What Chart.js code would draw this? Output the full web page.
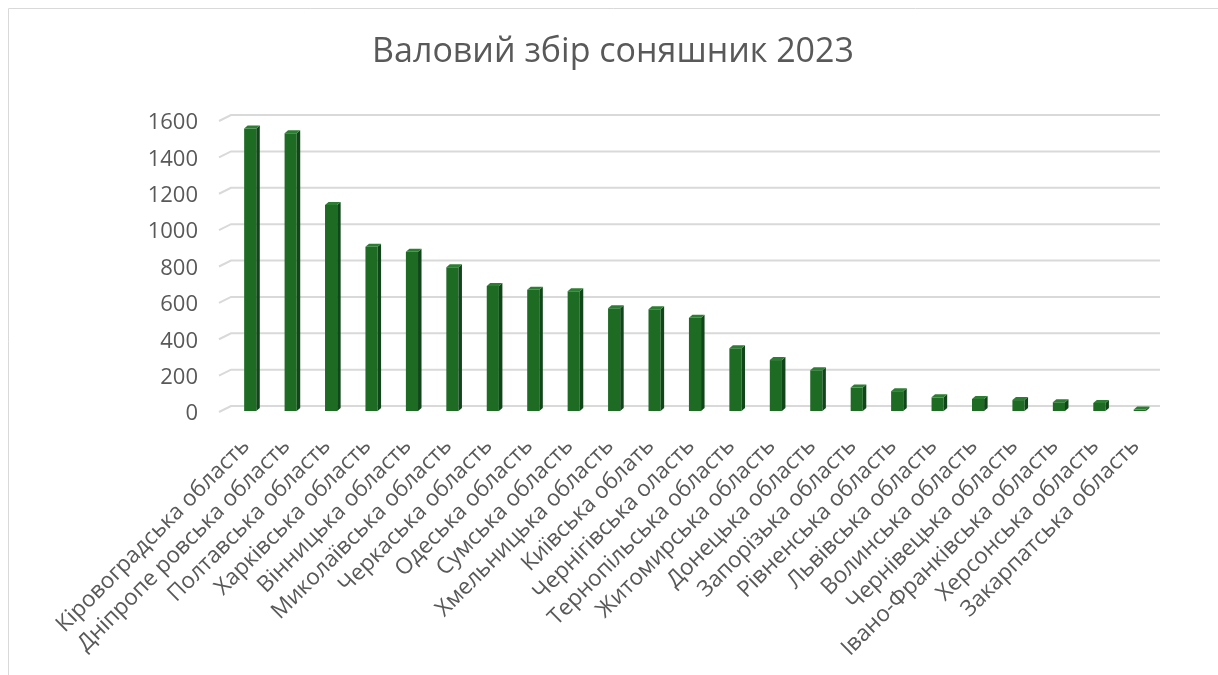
<!DOCTYPE html>
<html lang="uk">
<head>
<meta charset="UTF-8">
<title>Валовий збір соняшник 2023</title>
<script src="https://cdn.jsdelivr.net/npm/chart.js"></script>
<style>
  html, body { margin: 0; padding: 0; background: #fff; }
  #wrap { position: relative; width: 1218px; height: 675px; }
</style>
</head>
<body>
<div id="wrap"><canvas id="sunChart"></canvas></div>
<script>
const chartTitle = 'Валовий збір соняшник 2023';

const regions = [
  'Кіровоградська область', 'Дніпропе ровська область', 'Полтавська область',
  'Харківська область', 'Вінницька область', 'Миколаївська область',
  'Черкаська область', 'Одеська область', 'Сумська область',
  'Хмельницька область', 'Київська облать', 'Чернігівська оласть',
  'Тернопільська область', 'Житомирська область', 'Донецька область',
  'Запорізька область', 'Рівненська область', 'Львівська область',
  'Волинська область', 'Чернівецька область', 'Івано-Франківська область',
  'Херсонська область', 'Закарпатська область'
];

// тис. т
const harvest = [
  1553, 1527, 1132, 903, 876, 790, 687, 666, 658, 565, 560, 513,
  345, 280, 224, 129, 109, 75, 66, 60, 48, 44, 8
];

const yMin = 0;
const yMax = 1600;
const yStep = 200;

const textColor = '#595959';
const gridColor = '#d9d9d9';
const fontFamily = '"Open Sans", sans-serif';

const barFront = '#1e6b24';
const barSide = '#11461a';
const barTop = '#2c7f32';

// depth of the column boxes and of the floor/back wall
const barDepth = { dx: 3.5, dy: 3 };
const wallDepth = { dx: 11, dy: 5, side: 6 };

const frame = {
  id: 'frame',
  beforeDraw(chart) {
    const ctx = chart.ctx;
    ctx.save();
    ctx.strokeStyle = gridColor;
    ctx.lineWidth = 1;
    ctx.beginPath();
    ctx.moveTo(8.5, chart.height);
    ctx.lineTo(8.5, 8.5);
    ctx.lineTo(chart.width, 8.5);
    ctx.stroke();
    ctx.restore();
  },
  beforeDatasetsDraw(chart) {
    // back-wall gridlines with the short side-wall segment on the left
    const ctx = chart.ctx;
    const area = chart.chartArea;
    const yScale = chart.scales.y;
    ctx.save();
    ctx.strokeStyle = gridColor;
    ctx.lineWidth = 2;
    yScale.ticks.forEach(t => {
      const py = yScale.getPixelForValue(t.value) - wallDepth.dy;
      ctx.beginPath();
      ctx.moveTo(area.left - wallDepth.dx, py + wallDepth.side);
      ctx.lineTo(area.left + 1, py);
      ctx.lineTo(area.right, py);
      ctx.stroke();
    });
    ctx.restore();
  },
  afterDatasetsDraw(chart) {
    const ctx = chart.ctx;
    const { dx, dy } = barDepth;
    ctx.save();
    chart.getDatasetMeta(0).data.forEach(bar => {
      const { x, y, base, width } = bar.getProps(['x', 'y', 'base', 'width'], true);
      const l = x - width / 2;
      const r = x + width / 2;
      ctx.fillStyle = barSide;
      ctx.beginPath();
      ctx.moveTo(r, y);
      ctx.lineTo(r + dx, y - dy);
      ctx.lineTo(r + dx, base - dy);
      ctx.lineTo(r, base);
      ctx.closePath();
      ctx.fill();
      ctx.fillStyle = barTop;
      ctx.beginPath();
      ctx.moveTo(l, y);
      ctx.lineTo(l + dx, y - dy);
      ctx.lineTo(r + dx, y - dy);
      ctx.lineTo(r, y);
      ctx.closePath();
      ctx.fill();
    });
    ctx.restore();
  }
};

new Chart(document.getElementById('sunChart'), {
  type: 'bar',
  data: {
    labels: regions,
    datasets: [{
      data: harvest,
      backgroundColor: barFront,
      borderWidth: 0,
      categoryPercentage: 1,
      barPercentage: 0.3
    }]
  },
  options: {
    responsive: true,
    maintainAspectRatio: false,
    animation: false,
    layout: { padding: { left: 66, right: 58, top: 0, bottom: 0 } },
    plugins: {
      legend: { display: false },
      tooltip: { enabled: false },
      title: {
        display: true,
        text: chartTitle,
        color: textColor,
        font: { family: fontFamily, size: 34, weight: 'normal' },
        padding: { top: 31.6, bottom: 47.6 }
      }
    },
    scales: {
      x: {
        grid: { display: false, drawTicks: false },
        border: { display: false },
        ticks: {
          autoSkip: false,
          minRotation: 45,
          maxRotation: 45,
          padding: 22,
          labelOffset: -4,
          color: textColor,
          font: { family: fontFamily, size: 22.5 }
        },
        afterFit(scale) { scale.height = 264; }
      },
      y: {
        min: yMin,
        max: yMax,
        grid: { display: false, drawTicks: false },
        border: { display: false },
        ticks: {
          stepSize: yStep,
          padding: 32,
          labelOffset: 3,
          color: textColor,
          font: { family: fontFamily, size: 22 },
          callback: v => String(v)
        },
        afterFit(scale) { scale.width = 164; }
      }
    }
  },
  plugins: [frame]
});
</script>
</body>
</html>
